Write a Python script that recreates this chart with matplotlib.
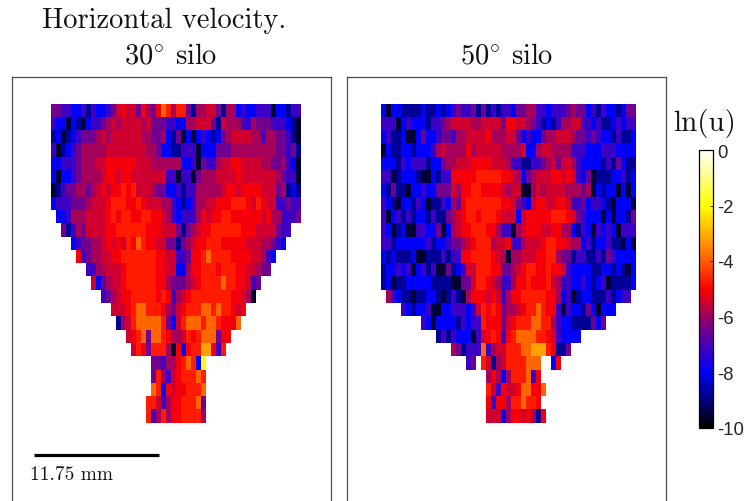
import numpy as np
import matplotlib as mpl
mpl.use('Agg')
import matplotlib.pyplot as plt
from matplotlib.colors import LinearSegmentedColormap

# one character per cell, '.' = no data
levels = {'0': -9.6, '1': -8.8, '2': -8.0, '3': -7.2, '4': -6.5, '5': -5.9, '6': -5.5,
          '7': -5.1, '8': -4.7, '9': -3.9, 'a': -3.2, 'y': -2.0}

silo30 = [
    "4433223132 2346766475 47985 8841556641 5523223330 22133",
    "3220210233 4565666656 44433 2255666416 5553354443 33210",
    "1201234445 6566666655 44521 4020232124 5666655355 44310",
    "3012345555 5666666665 54221 1333022244 4555555555 44341",
    "2233345556 6777777666 55555 5223043356 6776666554 45320",
    "2022345555 6776776666 66633 0330455566 6676666666 54330",
    "0134455456 7677878666 54422 3133555556 7767777666 45121",
    "2333444566 6788877876 66553 2123556677 7888768766 33433",
    ".223555666 6787887788 77653 2333576778 8777777675 53334",
    "..41354666 6778888887 77666 4145677888 8887776666 433..",
    "....234455 6767687987 76644 1456778887 7777666554 32...",
    ".....73455 6677888888 87766 3347789888 8777766532 .....",
    ".......335 5666788888 87766 2257788878 887766544. .....",
    "........62 4566788888 87754 4456788889 8877634... .....",
    ".......... 3456778888 87873 5678888888 877650.... .....",
    ".......... ..66678998 88754 6788899898 8767...... .....",
    ".......... ...1568999 99842 6899989987 779....... .....",
    ".......... .....67894 99875 5687899947 7......... .....",
    ".......... ......6874 88850 72788aa738 .......... .....",
    ".......... .......... 44355 78982y.... .......... .....",
    ".......... .......... 48536 788898.... .......... .....",
    ".......... .......... 98276 778889.... .......... .....",
    ".......... .........8 86357 788894.... .......... .....",
    ".......... .........8 35857 788885.... .......... .....",
]

silo50 = [
    "2022111121 1212343341 41313 3244553323 3345442313 221244",
    "3330232221 3345666655 66664 7766543121 3556633231 123233",
    "2311200242 2344355666 67555 6642322455 6665443432 213112",
    "0211221222 3565555756 66665 5556225665 5553332223 332222",
    "2221323331 2245566677 77666 5331133456 4665322221 314211",
    "3301222100 2133777778 88887 7652456667 7676324011 122312",
    "2141102232 2444657788 77776 5660056566 6655545021 220202",
    "3210221320 1132547888 88887 7643267766 7763342332 102220",
    "3023131221 3114567887 88876 6626777778 8876432220 202214",
    "3201200332 2402567788 87753 3056777667 7552132032 320333",
    "3312222223 1223445678 88566 7335666788 7765523122 311020",
    "2121112001 1131337788 88765 0556667788 5441331131 432222",
    "1223230231 3004123668 88774 4567887787 7632222112 212102",
    "1201122222 1111004468 87653 3577877786 5332232123 011112",
    ".532110112 2101310577 76763 5778888877 5230122111 31233.",
    "....321223 0022333236 87874 5567889877 3032214202 22....",
    "........32 0222213233 87774 6788899885 3221111424 ......",
    ".......... .131322203 67873 7899998876 32222..... ......",
    ".......... ....541333 93566 88899aaa87 114....... ......",
    ".......... .......34. 86156 8888999..2 7......... ......",
    ".......... .......... .5752 5888937... .......... ......",
    ".......... .......... .8637 66799779.. .......... ......",
    ".......... .......... .7377 5889887... .......... ......",
    ".......... .......... .6662 57767517.. .......... ......",
]

title_top = "Horizontal velocity."
titles = ["30$^{\\circ}$ silo", "50$^{\\circ}$ silo"]
cbar_ticks = [0, -2, -4, -6, -8, -10]
cbar_labels = ['0', '-2', '-4', '-6', '-8', '-10']


def decode(rows):
    out = []
    for r in rows:
        out.append([levels.get(c, np.nan) for c in r.replace(' ', '')])
    return np.ma.masked_invalid(np.array(out))


cmap = LinearSegmentedColormap.from_list('silo', [
    (0.0, (0, 0, 0)), (0.2, (0, 0, 1)), (0.37, (0.5, 0, 0.5)), (0.5, (1, 0, 0)),
    (0.64, (1, 0.5, 0)), (0.8, (1, 1, 0)), (1.0, (1, 1, 1))], N=256)

plt.rcParams['mathtext.fontset'] = 'cm'
plt.rcParams['axes.unicode_minus'] = False
plt.rcParams['axes.formatter.use_mathtext'] = False

W, H = 746, 502
dpi = 100
fig = plt.figure(figsize=(W / dpi, H / dpi), dpi=dpi)


def box(x0, x1, y0, y1):
    # pixel box, y from the top
    return [x0 / W, 1 - y1 / H, (x1 - x0) / W, (y1 - y0) / H]


cw, ch = 5.0, 13.3
panels = [(silo30, 11.5, 330.5, 51), (silo50, 347, 665.5, 381)]
for (rows, x0, x1, grid_x), title in zip(panels, titles):
    ax = fig.add_axes(box(x0, x1, 77.5, 520))
    data = decode(rows)
    mesh = ax.pcolormesh(data, cmap=cmap, vmin=-10, vmax=0)
    ax.set_xticks([])
    ax.set_yticks([])
    for s in ax.spines.values():
        s.set_color('#4d4d4d')
        s.set_linewidth(0.9)
    fig.text((x0 + x1) / 2 / W, 1 - 63 / H, title, ha='center', va='baseline',
             family='cmr10', fontsize=20.5, color='#111111')
    if title == titles[0]:
        fig.text(164 / W, 1 - 28 / H, title_top, ha='center', va='baseline',
                 family='cmr10', fontsize=20.5, color='#111111')
        # scale bar
        ax.plot([(34 - grid_x) / cw, (158.5 - grid_x) / cw], [(456 - 104.5) / ch] * 2,
                color='k', lw=2.3, solid_capstyle='butt')
        fig.text(30 / W, 1 - 475 / H, '11.75 mm', family='cmr10', fontsize=13.9,
                 ha='left', va='center', color='#111111')
    ax.set_xlim((x0 - grid_x) / cw, (x1 - grid_x) / cw)
    ax.set_ylim((520 - 104.5) / ch, (77.5 - 104.5) / ch)

cax = fig.add_axes(box(699, 713, 151, 428.5))
cb = fig.colorbar(mesh, cax=cax)
cb.set_ticks(cbar_ticks)
cb.set_ticklabels(cbar_labels)
cb.outline.set_linewidth(0.9)
cb.ax.tick_params(direction='in', length=2.5, width=0.6, pad=3, labelsize=13.3, colors='#262626')
for t in cb.ax.get_yticklabels():
    t.set_family('Liberation Sans')
fig.text(705 / W, 1 - 124 / H, 'ln(u)', family='cmr10', fontsize=21, ha='center', va='center',
         color='#111111')

fig.savefig('out.png', dpi=dpi)
